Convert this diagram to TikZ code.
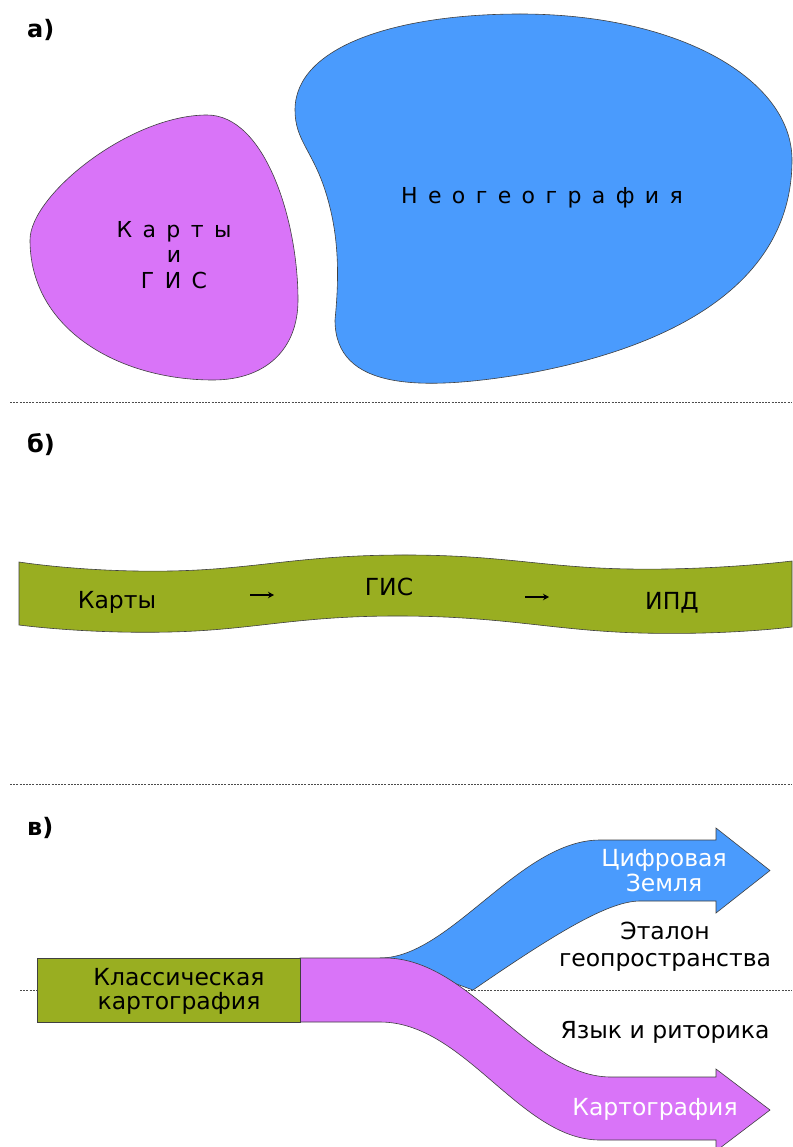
\documentclass[tikz,border=0pt]{standalone}
\usepackage{fontspec}
\setmainfont{DejaVu Sans}
\usetikzlibrary{arrows.meta}
\definecolor{magblob}{RGB}{217,116,248}
\definecolor{blueblob}{RGB}{74,155,253}
\definecolor{bandgreen}{RGB}{153,174,33}
\newcommand\gp{\hspace{10.4pt}}
\begin{document}
\begin{tikzpicture}[x=1pt,y=-1pt,
  outline/.style={draw=black!75, line width=0.6pt},
  sepline/.style={draw=black!70, line width=0.9pt, dash pattern=on 2pt off 1.2pt},
  lbl/.style={font=\fontsize{23.5}{27}\selectfont, anchor=base, inner sep=0pt},
  wlbl/.style={lbl, text=white},
  slbl/.style={font=\fontsize{22}{26}\selectfont, anchor=base, inner sep=0pt},
  headlbl/.style={font=\bfseries\fontsize{24}{28}\selectfont, anchor=base west, inner sep=0pt},
  smallarrow/.style={draw=black, line width=2.2pt, -{Stealth[length=6pt,width=6.5pt]}}
]
\useasboundingbox (0,0) rectangle (792,1147);
\fill[white] (0,0) rectangle (792,1147);

% separators
\coordinate (s1a) at (10,402); \coordinate (s1b) at (792,402);
\coordinate (s2a) at (10,784); \coordinate (s2b) at (792,784);
\coordinate (s3a) at (20,990); \coordinate (s3b) at (792,990);
\draw[sepline] (s1a) -- (s1b);
\draw[sepline] (s2a) -- (s2b);
\draw[sepline] (s3a) -- (s3b);

% ---------- a) ----------
\node[headlbl] (ha) at (27,38) {а)};
\path[outline, fill=magblob] (30,240)
  .. controls (30,195) and (130,115) .. (207,115)
  .. controls (265,115) and (298,220) .. (298,300)
  .. controls (298,350) and (265,380) .. (213,380)
  .. controls (120,380) and (30,330) .. (30,240) -- cycle;
\path[outline, fill=blueblob] (295,110)
  .. controls (295,45) and (400,14) .. (520,14)
  .. controls (680,14) and (792,80) .. (792,160)
  .. controls (792,280) and (680,345) .. (530,373)
  .. controls (420,392) and (335,390) .. (335,320)
  .. controls (340,270) and (338,230) .. (325,190)
  .. controls (312,150) and (295,140) .. (295,110) -- cycle;
\node[slbl] (ka1) at (174,238) {К\gp а\gp р\gp т\gp ы};
\node[slbl] (ka2) at (174,263) {и};
\node[slbl] (ka3) at (174,289) {Г\gp И\gp С};
\node[slbl] (neo) at (542,204) {Н\gp е\gp о\gp г\gp е\gp о\gp г\gp р\gp а\gp ф\gp и\gp я};

% ---------- b) ----------
\node[headlbl] (hb) at (27,452) {б)};
\path[outline, fill=bandgreen]
  plot[smooth, tension=0.8] coordinates {(19,562) (170,571) (400,555) (630,569) (792,561)}
  -- plot[smooth, tension=0.8] coordinates {(792,627) (640,633) (400,616) (170,632) (19,625)}
  -- cycle;
\node[lbl] (kb1) at (117,608) {Карты};
\node[lbl] (kb2) at (389,595) {ГИС};
\node[lbl] (kb3) at (672,609) {ИПД};
\coordinate (a1s) at (250,595); \coordinate (a1e) at (274,595);
\coordinate (a2s) at (525,597); \coordinate (a2e) at (549,597);
\draw[smallarrow] (a1s) -- (a1e);
\draw[smallarrow] (a2s) -- (a2e);

% ---------- c) ----------
\node[headlbl] (hc) at (27,835) {в)};
\path[outline, fill=blueblob] (380,958) .. controls (450,958) and (520,840) .. (600,840)
  -- (716,840) -- (716,828) -- (770,870.5) -- (716,913) -- (716,901) -- (640,901)
  .. controls (610,901) and (560,930) .. (473,990) -- (385,958) -- cycle;
\path[outline, fill=magblob] (300,958) -- (385,958) .. controls (470,958) and (530,1077) .. (611,1077)
  -- (716,1077) -- (716,1069) -- (770,1110) -- (716,1151) -- (716,1140) -- (600,1140)
  .. controls (520,1140) and (465,1022) .. (380,1022) -- (300,1022) -- cycle;
\path[outline, fill=bandgreen] (37,958) rectangle (300,1022);
\node[lbl] (kc1) at (179,985) {Классическая};
\node[lbl] (kc2) at (179,1009) {картография};
\node[wlbl] (cz1) at (664,866) {Цифровая};
\node[wlbl] (cz2) at (664,891) {Земля};
\node[lbl] (et1) at (665,939) {Эталон};
\node[lbl] (et2) at (665,966) {геопространства};
\node[lbl] (yr) at (665,1038) {Язык и риторика};
\node[wlbl] (kart) at (655,1115) {Картография};
\end{tikzpicture}
\end{document}
